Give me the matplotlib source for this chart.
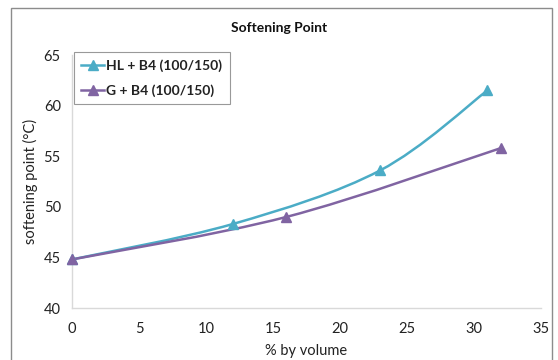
import matplotlib.pyplot as plt
from matplotlib.path import Path
from matplotlib.patches import PathPatch, Rectangle
from matplotlib.lines import Line2D
import numpy as np

# data
hl_x = [0, 12, 23, 31]
hl_y = [44.8, 48.3, 53.6, 61.5]
g_x = [0, 16, 32]
g_y = [44.8, 49.0, 55.8]
labels = ["HL + B4 (100/150)", "G + B4 (100/150)"]
colors = ["#4BACC6", "#8064A2"]

plt.rcParams['font.family'] = ['Lato', 'DejaVu Sans']


def smooth_path(xs, ys):
    # Excel-like smoothed line: cubic bezier segments through the points
    pts = np.column_stack([xs, ys]).astype(float)
    n = len(pts)
    verts = [pts[0]]
    codes = [Path.MOVETO]
    for i in range(n - 1):
        p0 = pts[max(i - 1, 0)]
        p1 = pts[i]
        p2 = pts[i + 1]
        p3 = pts[min(i + 2, n - 1)]
        c1 = p1 + (p2 - p0) / 6
        c2 = p2 - (p3 - p1) / 6
        verts += [c1, c2, p2]
        codes += [Path.CURVE4] * 3
    return Path(verts, codes)


fig = plt.figure(figsize=(5.58, 3.6), dpi=100)
ax = fig.add_axes([0.129, 0.1444, 0.8405, 0.7028])

for xs, ys, c in [(hl_x, hl_y, colors[0]), (g_x, g_y, colors[1])]:
    ax.add_patch(PathPatch(smooth_path(xs, ys), facecolor='none', edgecolor=c, lw=1.8, zorder=2))
    ax.plot(xs, ys, linestyle='none', marker='^', markersize=7, color=c,
            markeredgecolor=c, zorder=3, clip_on=False)

ax.set_xlim(0, 35)
ax.set_ylim(40, 65)
ax.set_xticks(range(0, 36, 5))
ax.set_yticks(range(40, 66, 5))
ax.tick_params(length=0, labelsize=10.5, colors='#222222')
ax.tick_params(axis='x', pad=10)
ax.tick_params(axis='y', pad=8)
for s in ['top', 'right']:
    ax.spines[s].set_visible(False)
for s in ['left', 'bottom']:
    ax.spines[s].set_color('#D9D9D9')
    ax.spines[s].set_linewidth(1.0)

ax.set_xlabel('% by volume', fontsize=10.5, color='#222222', labelpad=6)
ax.set_ylabel('softening point (°C)', fontsize=10.5, color='#222222', labelpad=4)
fig.text(0.5, 0.922, 'Softening Point', ha='center', va='center', fontsize=10,
         fontweight='bold', color='#111111')

handles = [Line2D([], [], color=c, marker='^', markersize=7, lw=1.8) for c in colors]
leg = ax.legend(handles, labels, loc='upper left', bbox_to_anchor=(0.004, 1.012),
                borderaxespad=0, fontsize=10, frameon=True, fancybox=False,
                handlelength=1.6, handletextpad=0.2, borderpad=0.55, labelspacing=0.85)
leg.get_frame().set_edgecolor('#808080')
leg.get_frame().set_linewidth(0.8)
for t in leg.get_texts():
    t.set_fontweight('bold')
    t.set_color('#222222')

# outer chart border
fig.add_artist(Rectangle((11 / 558, -0.05), 541 / 558, 1 - 8 / 360 + 0.05,
                         transform=fig.transFigure, fill=False,
                         edgecolor='#8C8C8C', lw=1.0))

fig.savefig('out.png', dpi=100)
